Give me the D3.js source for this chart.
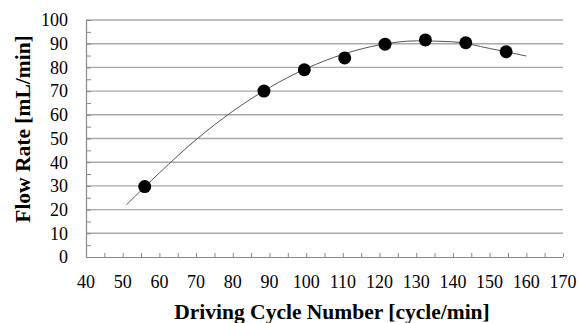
<!DOCTYPE html>
<meta charset="utf-8" />
<script src="https://d3js.org/d3.v7.js"></script>
<style>
	body { margin: 0; background: #fff; }
</style>
<div id="chart"></div>
<script>
	// measured points
	const cycleNumber = [56, 88.5, 99.5, 110.5, 121.5, 132.5, 143.5, 154.5];
	const flowRate = [29.7, 70, 79, 84, 89.8, 91.6, 90.4, 86.6];

	// trend line
	const trendX = [51, 60, 70, 80, 90, 100, 110, 120, 130, 140, 150, 160];
	const trendY = [22, 35.5, 49.5, 61.5, 71.5, 79.5, 85.5, 89.5, 91.2, 90.8, 88, 84.8];

	const xTicks = d3.range(40, 171, 10);
	const yTicks = d3.range(0, 101, 10);

	const font = "'Liberation Serif', 'Times New Roman', Times, 'DejaVu Serif', serif";

	const margin = { top: 20, right: 16, bottom: 66, left: 86 };
	const W = 579, H = 323;
	const width = W - margin.left - margin.right;
	const height = H - margin.top - margin.bottom;

	const svg = d3.select("#chart").append("svg")
		.attr("width", W)
		.attr("height", H)
		.attr("font-family", font);
	const g = svg.append("g")
		.attr("transform", "translate(" + margin.left + "," + margin.top + ")");

	const x = d3.scaleLinear().domain([40, 170]).range([0, width]);
	const y = d3.scaleLinear().domain([0, 100]).range([height, 0]);

	// gridlines
	g.append("g")
		.selectAll("line")
		.data(yTicks.slice(1))
		.enter()
		.append("line")
		.attr("x1", 0)
		.attr("x2", width)
		.attr("y1", d => y(d))
		.attr("y2", d => y(d))
		.attr("stroke", "#a8a8a8")
		.attr("stroke-width", 1.4);

	// y axis (minor ticks every 5, pointing inward)
	const yAxis = g.append("g").call(
		d3.axisRight(y).tickValues(d3.range(0, 101, 5)).tickSize(5).tickFormat("")
	);
	yAxis.select(".domain").attr("stroke", "#888").attr("stroke-width", 1.2)
		.attr("d", "M0.5," + height + "V0");
	yAxis.selectAll(".tick line").attr("stroke", "#888");

	g.append("g")
		.selectAll("text")
		.data(yTicks)
		.enter()
		.append("text")
		.attr("x", -18)
		.attr("y", d => y(d))
		.attr("dy", "0.35em")
		.attr("text-anchor", "end")
		.attr("font-family", font)
		.style("font-size", "18px")
		.text(d => d);

	// x axis (ticks every 5, pointing upward)
	const xAxis = g.append("g")
		.attr("transform", "translate(0," + height + ")")
		.call(d3.axisTop(x).tickValues(d3.range(40, 171, 5)).tickSize(4).tickFormat(""));
	xAxis.select(".domain").attr("stroke", "#888").attr("stroke-width", 1.2)
		.attr("d", "M0,0.5H" + width);
	xAxis.selectAll(".tick line").attr("stroke", "#888");

	g.append("g")
		.selectAll("text")
		.data(xTicks)
		.enter()
		.append("text")
		.attr("x", d => x(d))
		.attr("y", height + 31)
		.attr("text-anchor", "middle")
		.attr("font-family", font)
		.style("font-size", "18px")
		.text(d => d);

	// trend line
	const line = d3.line()
		.x((d, i) => x(trendX[i]))
		.y(d => y(d))
		.curve(d3.curveMonotoneX);
	g.append("path")
		.datum(trendY)
		.attr("d", line)
		.attr("fill", "none")
		.attr("stroke", "#555")
		.attr("stroke-width", 1);

	// points
	g.append("g")
		.selectAll("circle")
		.data(flowRate)
		.enter()
		.append("circle")
		.attr("cx", (d, i) => x(cycleNumber[i]))
		.attr("cy", d => y(d))
		.attr("r", 6.5)
		.attr("fill", "#000");

	// axis titles
	svg.append("text")
		.attr("x", 332)
		.attr("y", 319)
		.attr("text-anchor", "middle")
		.attr("font-family", font)
		.style("font-size", "21.5px")
		.style("font-weight", "bold")
		.text("Driving Cycle Number [cycle/min]");

	svg.append("text")
		.attr("transform", "translate(30,129) rotate(-90)")
		.attr("text-anchor", "middle")
		.attr("font-family", font)
		.style("font-size", "21.5px")
		.style("font-weight", "bold")
		.text("Flow Rate [mL/min]");
</script>
